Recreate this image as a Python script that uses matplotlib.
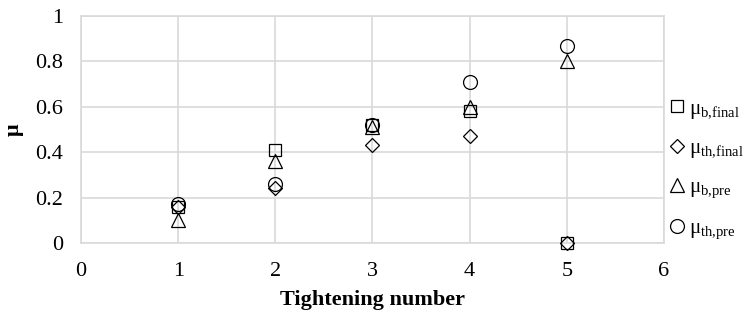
import matplotlib as mpl
mpl.use('Agg')
import matplotlib.pyplot as plt

plt.rcParams['font.family'] = ['Liberation Serif', 'DejaVu Serif']
plt.rcParams['mathtext.fontset'] = 'custom'
plt.rcParams['mathtext.rm'] = 'Liberation Serif'

tightening = [1, 2, 3, 4, 5]
mu_b_final = [0.16, 0.41, 0.52, 0.58, 0.0]
mu_th_final = [0.16, 0.24, 0.43, 0.47, 0.0]
mu_b_pre = [0.10, 0.36, 0.51, 0.60, 0.80]
mu_th_pre = [0.17, 0.26, 0.52, 0.71, 0.87]

series = [
    (mu_b_final, 's', 9, r'μ$_{\mathrm{b{,}final}}$'),
    (mu_th_final, 'D', 7.5, r'μ$_{\mathrm{th{,}final}}$'),
    (mu_b_pre, '^', 10, r'μ$_{\mathrm{b{,}pre}}$'),
    (mu_th_pre, 'o', 10, r'μ$_{\mathrm{th{,}pre}}$'),
]

fig = plt.figure(figsize=(7.51, 3.23), dpi=100)
ax = fig.add_axes([0.108, 0.248, 0.776, 0.702])

for values, marker, ms, label in series:
    ax.plot(tightening, values, linestyle='', marker=marker, markersize=ms,
            markerfacecolor='none', markeredgecolor='black',
            markeredgewidth=0.9, label=label, clip_on=False, zorder=3)

ax.set_xlim(0, 6)
ax.set_ylim(0, 1)
ax.set_xticks(range(0, 7))
ax.set_yticks([0, 0.2, 0.4, 0.6, 0.8, 1])
ax.set_yticklabels(['0', '0.2', '0.4', '0.6', '0.8', '1'])
ax.grid(True, color='#d9d9d9', linewidth=1.2)
ax.set_axisbelow(True)
for spine in ax.spines.values():
    spine.set_color('#d9d9d9')
    spine.set_linewidth(1.2)
ax.tick_params(length=0, labelsize=16)
ax.tick_params(axis='x', pad=14)
ax.tick_params(axis='y', pad=13)

ax.set_xlabel('Tightening number', fontsize=16, fontweight='bold', labelpad=6)
ax.set_ylabel('μ', fontsize=16, fontweight='bold', labelpad=8)

ax.legend(loc='center left', bbox_to_anchor=(1.005, 0.32), frameon=False,
          fontsize=15, handletextpad=0.15, labelspacing=0.85,
          handlelength=0.8, borderaxespad=0.0, borderpad=0.1)

plt.savefig('out.png', dpi=100)
plt.close()
